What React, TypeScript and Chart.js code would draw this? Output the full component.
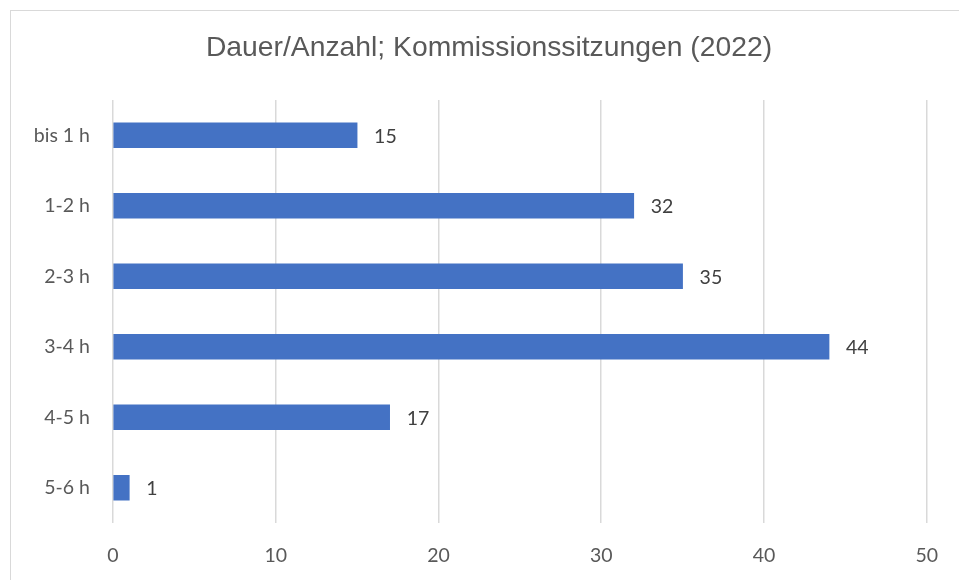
import React, { useEffect, useRef } from "react";
import { Chart, registerables } from "chart.js";

Chart.register(...registerables);

const titleText = "Dauer/Anzahl; Kommissionssitzungen (2022)";
const categories = ["bis 1 h", "1-2 h", "2-3 h", "3-4 h", "4-5 h", "5-6 h"];
const values = [15, 32, 35, 44, 17, 1];
const xMin = 0;
const xMax = 50;
const xStep = 10;

const labelPlugin = {
  id: "valueLabels",
  afterDatasetsDraw(chart: any) {
    const ctx = chart.ctx;
    const meta = chart.getDatasetMeta(0);
    ctx.save();
    ctx.font = "19.5px Lato";
    ctx.fillStyle = "#404040";
    ctx.textAlign = "left";
    ctx.textBaseline = "middle";
    meta.data.forEach((bar: any, i: number) => {
      ctx.fillText(String(values[i]), bar.x + 17, bar.y + 1);
    });
    ctx.restore();
  },
};

const titlePlugin = {
  id: "centeredTitle",
  afterDraw(chart: any) {
    const ctx = chart.ctx;
    ctx.save();
    ctx.font = "28.3px 'Liberation Sans', Arial";
    ctx.fillStyle = "#595959";
    ctx.textAlign = "center";
    ctx.textBaseline = "middle";
    ctx.fillText(titleText, 489, 48);
    ctx.restore();
  },
};

export default function App() {
  const ref = useRef<HTMLCanvasElement>(null);
  useEffect(() => {
    document.body.style.margin = "0";
    const chart = new Chart(ref.current!, {
      type: "bar",
      data: {
        labels: categories,
        datasets: [
          {
            data: values,
            backgroundColor: "#4472c4",
            barThickness: 25,
          },
        ],
      },
      options: {
        indexAxis: "y",
        animation: false,
        responsive: false,
        maintainAspectRatio: false,
        layout: { padding: { left: 0, right: 31, top: 100, bottom: 0 } },
        plugins: {
          legend: { display: false },
          tooltip: { enabled: false },
          title: { display: false },
        },
        scales: {
          x: {
            min: xMin,
            max: xMax,
            ticks: {
              stepSize: xStep,
              color: "#595959",
              font: { family: "Lato", size: 19.5 },
              padding: 21,
            },
            grid: { color: "#d9d9d9", lineWidth: 1.5, drawTicks: false },
            border: { display: false },
            afterFit(scale: any) {
              scale.height = 57;
            },
          },
          y: {
            ticks: {
              color: "#595959",
              font: { family: "Lato", size: 19.5 },
              padding: 23,
            },
            grid: { display: false, drawTicks: false },
            border: { display: false },
            afterFit(scale: any) {
              scale.width = 113;
            },
          },
        },
      },
      plugins: [labelPlugin, titlePlugin],
    });
    return () => chart.destroy();
  }, []);
  return (
    <div style={{ position: "relative", width: 959, height: 580, overflow: "hidden", background: "#fff" }}>
      <div
        style={{
          position: "absolute",
          left: 10,
          top: 10,
          width: 1000,
          height: 1000,
          border: "1px solid #d9d9d9",
          boxSizing: "border-box",
        }}
      />
      <canvas ref={ref} width={959} height={580} style={{ position: "absolute", left: 0, top: 0 }} />
    </div>
  );
}
